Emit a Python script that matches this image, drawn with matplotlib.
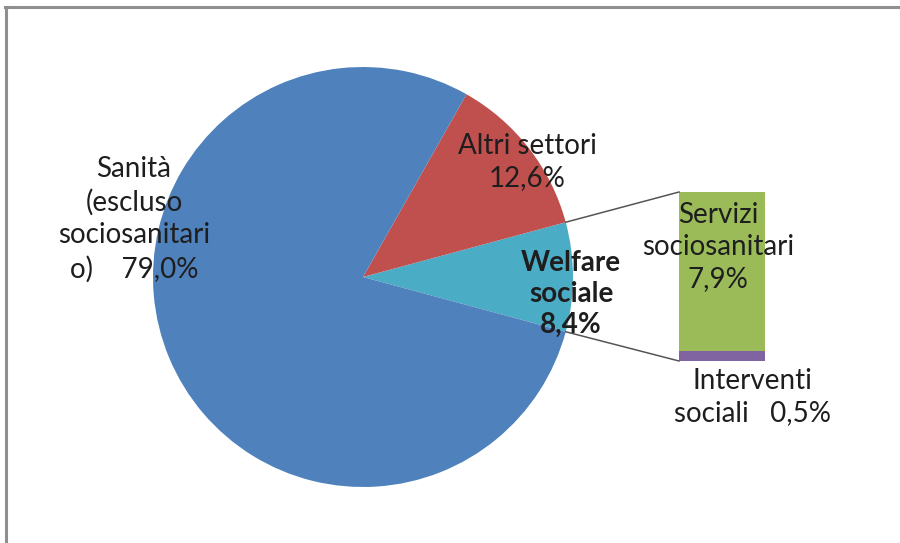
import numpy as np
import matplotlib.pyplot as plt
from matplotlib.lines import Line2D

# =============================
# Data
# =============================

main_labels = ["Welfare\nsociale", "Altri settori", "Sanità\n(escluso\nsociosanitari\no)"]
main_values = [8.4, 12.6, 79.0]
main_colors = ["#4BACC6", "#C0504D", "#4F81BD"]

sub_labels = ["Interventi\nsociali", "Servizi\nsociosanitari"]
sub_values = [0.5, 7.9]
sub_colors = ["#8064A2", "#9BBB59"]


def pct(v: float) -> str:
    return f"{v:.1f}".replace(".", ",") + "%"


W, H = 900, 543
FONT = ["Lato", "DejaVu Sans"]
TXT = "#1e1e1e"

fig = plt.figure(figsize=(W / 100, H / 100), dpi=100)
ax = fig.add_axes([0, 0, 1, 1])


def py(y: float) -> float:
    # pixel row (from top) -> data y
    return H - y


# pie
cx, cy, r = 363, py(277), 210
welfare_span = main_values[0] / sum(main_values) * 360
ax.pie(
    main_values,
    colors=main_colors,
    center=(cx, cy),
    radius=r,
    startangle=-welfare_span / 2,
    counterclock=True,
    wedgeprops=dict(linewidth=0),
    frame=True,
)
ax.set_xlim(0, W)
ax.set_ylim(0, H)
ax.set_aspect("equal")
ax.axis("off")

# stacked bar of the welfare slice
bar_left, bar_right = 679, 765
bar_bottom = py(361)
scale = (361 - 192) / sum(sub_values)
bottom = bar_bottom
for v, c in zip(sub_values, sub_colors):
    ax.bar(
        (bar_left + bar_right) / 2, v * scale, width=bar_right - bar_left,
        bottom=bottom, color=c, linewidth=0,
    )
    bottom += v * scale
bar_top = bottom

# connector lines
a = np.deg2rad(welfare_span / 2)
ax.plot([cx + r * np.cos(a), bar_left], [cy + r * np.sin(a), bar_top], color="#555555", lw=1.1)
ax.plot([cx + r * np.cos(-a), bar_left], [cy + r * np.sin(-a), bar_bottom], color="#555555", lw=1.1)

# labels
fs = 20
ls = 1.32
ax.text(134, py(219), main_labels[2].replace("o)", "o)    " + pct(main_values[2])),
        ha="center", va="center", fontsize=fs, family=FONT, color=TXT, linespacing=ls)
ax.text(527, py(162), main_labels[1] + "\n" + pct(main_values[1]),
        ha="center", va="center", fontsize=fs, family=FONT, color=TXT, linespacing=ls)
ax.text(571, py(294), main_labels[0] + "\n" + pct(main_values[0]),
        ha="center", va="center", fontsize=fs, family=FONT, color=TXT,
        fontweight="bold", linespacing=1.25)
ax.text(718, py(247), sub_labels[1] + "\n" + pct(sub_values[1]),
        ha="center", va="center", fontsize=fs, family=FONT, color=TXT, linespacing=1.28)
ax.text(752, py(397), sub_labels[0].replace("sociali", "sociali   " + pct(sub_values[0])),
        ha="center", va="center", fontsize=fs, family=FONT, color=TXT, linespacing=1.28)

# chart frame (left and top edges visible)
fig.add_artist(Line2D([6 / W, 6 / W], [0, 1 - 7 / H], transform=fig.transFigure, color="#8f8f8f", lw=2.2))
fig.add_artist(Line2D([5 / W, 1], [1 - 7 / H, 1 - 7 / H], transform=fig.transFigure, color="#8f8f8f", lw=2.2))

fig.savefig("out.png", dpi=100)
